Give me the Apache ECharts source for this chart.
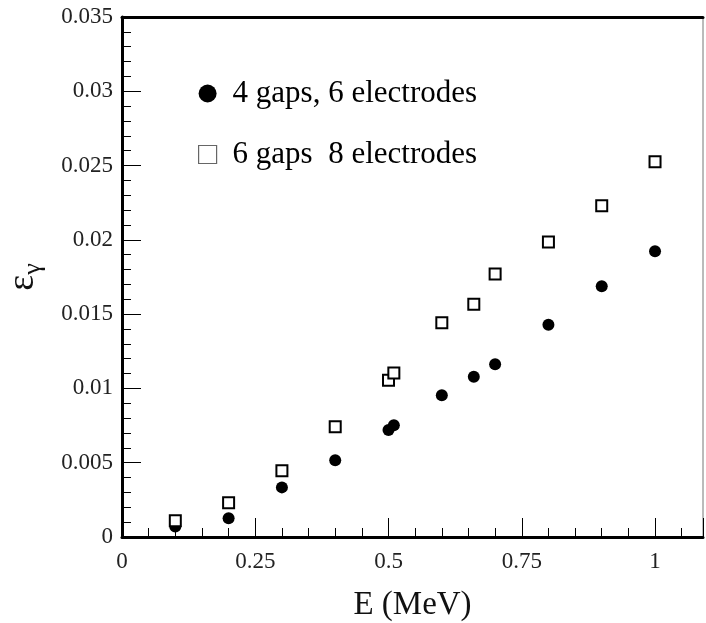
<!DOCTYPE html>
<html>
<head>
<meta charset="utf-8">
<script src="https://cdn.jsdelivr.net/npm/echarts@6/dist/echarts.min.js"></script>
<style>html,body{margin:0;padding:0;background:#fff;}#c{width:706px;height:623px;}</style>
</head>
<body>
<div id="c"></div>
<script>
var energy4 = [0.1, 0.2, 0.3, 0.4, 0.5, 0.51, 0.6, 0.66, 0.7, 0.8, 0.9, 1.0];
var eff4 = [0.0007, 0.00126, 0.00334, 0.00516, 0.0072, 0.00752, 0.00954, 0.01079, 0.01162, 0.01429, 0.01687, 0.01923];
var energy6 = [0.1, 0.2, 0.3, 0.4, 0.5, 0.51, 0.6, 0.66, 0.7, 0.8, 0.9, 1.0];
var eff6 = [0.0011, 0.00231, 0.00446, 0.00742, 0.01055, 0.01104, 0.01442, 0.01566, 0.0177, 0.01986, 0.0223, 0.02526];
var seriesNames = ['4 gaps, 6 electrodes', '6 gaps  8 electrodes'];
var xTickLabels = ['0', '0.25', '0.5', '0.75', '1'];

var FONT = 'Liberation Serif';
function pairs(xs, ys) { return xs.map(function (x, i) { return [x, ys[i]]; }); }

var chart = echarts.init(document.getElementById('c'));
chart.setOption({
  animation: false,
  backgroundColor: '#fff',
  grid: { left: 122, right: 3, top: 17, bottom: 86, containLabel: false, outerBoundsMode: 'none', show: true, borderColor: '#777', borderWidth: 1 },
  legend: {
    orient: 'vertical', left: 193, top: 73, itemWidth: 18, itemHeight: 18, itemGap: 30,
    textStyle: { fontFamily: FONT, fontSize: 31, color: '#000', padding: [0, 0, 0, 11] },
    data: [
      { name: seriesNames[0], icon: 'circle', itemStyle: { color: '#000', borderWidth: 0 } },
      { name: seriesNames[1], icon: 'rect', itemStyle: { color: '#fff', borderColor: '#666', borderWidth: 1.2 } }
    ]
  },
  xAxis: [
    {
      type: 'value', min: 0, max: 1.09, interval: 0.05, position: 'bottom',
      name: 'E (MeV)', nameLocation: 'middle', nameGap: 52,
      nameTextStyle: { fontFamily: FONT, fontSize: 33, color: '#111' },
      axisLine: { show: true, onZero: false, lineStyle: { color: '#000', width: 3 } },
      axisTick: { show: true, inside: true, length: 9, lineStyle: { color: '#000', width: 1 } },
      axisLabel: {
        fontFamily: FONT, fontSize: 23, color: '#222', margin: 13, showMaxLabel: false,
        formatter: function (v) {
          var k = v / 0.25;
          if (Math.abs(k - Math.round(k)) < 1e-6 && Math.round(k) < xTickLabels.length) return xTickLabels[Math.round(k)];
          return '';
        }
      },
      splitLine: { show: false }
    },
    {
      type: 'value', min: 0, max: 1.09, interval: 0.25, position: 'bottom',
      axisLine: { show: false },
      axisTick: { show: true, inside: true, length: 19, lineStyle: { color: '#000', width: 1 } },
      axisLabel: { show: false }, splitLine: { show: false }
    },
    {
      type: 'value', min: 0, max: 1.09, position: 'top',
      axisLine: { show: true, lineStyle: { color: '#000', width: 3 } },
      axisTick: { show: false }, axisLabel: { show: false }, splitLine: { show: false }
    }
  ],
  yAxis: [
    {
      type: 'value', min: 0, max: 0.035, interval: 0.005,
      name: '{a|ε}{b|γ}', nameLocation: 'middle', nameGap: 76, nameRotate: 90,
      nameTextStyle: {
        rich: {
          a: { fontFamily: FONT, fontSize: 38, color: '#111' },
          b: { fontFamily: FONT, fontSize: 26, color: '#111', padding: [20, 0, 0, 0] }
        }
      },
      axisLine: { show: true, onZero: false, lineStyle: { color: '#000', width: 3 } },
      axisTick: { show: true, inside: true, length: 19, lineStyle: { color: '#000', width: 1 } },
      minorTick: { show: true, splitNumber: 5, length: 9, lineStyle: { color: '#000', width: 1 } },
      axisLabel: { fontFamily: FONT, fontSize: 23, color: '#222', margin: 9 },
      splitLine: { show: false }
    }
  ],
  series: [
    {
      name: seriesNames[0], type: 'scatter', xAxisIndex: 0, yAxisIndex: 0,
      symbol: 'circle', symbolSize: 12,
      itemStyle: { color: '#000', opacity: 1 },
      data: pairs(energy4, eff4)
    },
    {
      name: seriesNames[1], type: 'scatter', xAxisIndex: 0, yAxisIndex: 0,
      symbol: 'rect', symbolSize: 11,
      itemStyle: { color: '#fff', borderColor: '#000', borderWidth: 2, opacity: 1 },
      data: pairs(energy6, eff6)
    }
  ]
});
</script>
</body>
</html>
